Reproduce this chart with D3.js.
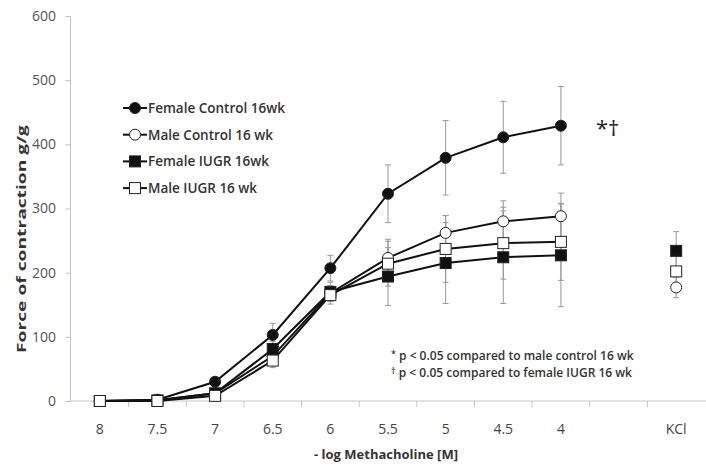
<!DOCTYPE html>
<html>
<head>
<meta charset="utf-8">
<script src="https://cdn.jsdelivr.net/npm/d3@7"></script>
<style>
  html, body { margin: 0; padding: 0; background: #fff; }
  svg { display: block; font-family: "Open Sans", "Liberation Sans", sans-serif; }
</style>
</head>
<body>
<svg id="chart" width="706" height="465"></svg>
<script>
// Concentrations on the x axis (plus a spacer and the KCl reference column)
const categories = ["8", "7.5", "7", "6.5", "6", "5.5", "5", "4.5", "4", "", "KCl"];
const yTicks = [0, 100, 200, 300, 400, 500, 600];

// Mean force of contraction (g/g) and error per group
const femaleControl    = [0, 2, 30, 103, 207, 323, 379, 411, 429, null, null];
const femaleControlErr = [0, 0, 5, 18, 20, 45, 58, 56, 61, null, null];
const maleControl      = [0, 1, 12, 70, 168, 223, 262, 280, 288, null, 177];
const maleControlErr   = [0, 0, 3, 10, 12, 29, 27, 32, 36, null, 16];
const femaleIUGR       = [0, 1, 12, 81, 170, 194, 215, 224, 227, null, 234];
const femaleIUGRErr    = [0, 0, 3, 12, 15, 45, 63, 72, 80, null, 30];
const maleIUGR         = [0, 0, 8, 63, 165, 214, 237, 246, 248, null, 202];
const maleIUGRErr      = [0, 0, 3, 11, 14, 35, 52, 56, 60, null, 25];

const seriesNames = ["Female Control 16wk", "Male Control 16 wk", "Female IUGR 16wk", "Male IUGR 16 wk"];
const footnotes = ["p < 0.05 compared to male control 16 wk", "p < 0.05 compared to female IUGR 16 wk"];
const footSymbols = ["*", "\u2020"];

const series = [
  { name: seriesNames[0], values: femaleControl, err: femaleControlErr, shape: "circle", fill: "#111" },
  { name: seriesNames[1], values: maleControl,   err: maleControlErr,   shape: "circle", fill: "#fff" },
  { name: seriesNames[2], values: femaleIUGR,    err: femaleIUGRErr,    shape: "square", fill: "#111" },
  { name: seriesNames[3], values: maleIUGR,      err: maleIUGRErr,      shape: "square", fill: "#fff" }
];

const svg = d3.select("#chart");
const axisColor = "#c4c4c4";
const textColor = "#444";

const x = d3.scaleBand().domain(categories).range([71, 705]).padding(0);
const y = d3.scaleLinear().domain([0, 600]).range([401, 16]);
const cx = c => x(c) + x.bandwidth() / 2;

// Y axis
const yAxis = svg.append("g").attr("transform", "translate(70,0)")
  .call(d3.axisLeft(y).tickValues(yTicks).tickSize(5).tickPadding(9));
yAxis.select(".domain").attr("stroke", axisColor);
yAxis.selectAll(".tick line").attr("stroke", axisColor);
yAxis.selectAll(".tick text").attr("fill", "#555").style("font-size", "14px")
  .style("font-family", "'Open Sans', sans-serif");

// X axis: baseline with ticks on category boundaries
svg.append("line").attr("x1", 70).attr("x2", 706).attr("y1", y(0)).attr("y2", y(0))
  .attr("stroke", axisColor);
svg.append("g").selectAll("line").data(categories.slice(0, -1)).join("line")
  .attr("x1", d => x(d) + x.bandwidth()).attr("x2", d => x(d) + x.bandwidth())
  .attr("y1", y(0)).attr("y2", y(0) + 6).attr("stroke", axisColor);
svg.append("g").selectAll("text").data(categories).join("text")
  .attr("x", d => cx(d)).attr("y", 434).attr("text-anchor", "middle")
  .attr("fill", textColor).style("font-size", "14px").text(d => d);

// Axis titles
svg.append("text").attr("x", 386).attr("y", 459).attr("text-anchor", "middle")
  .attr("fill", "#333").style("font-size", "13px").style("font-weight", 700)
  .text("- log Methacholine [M]");
// Vertical title: glyphs stretched along the text direction to span the axis label area
const yTitle = svg.append("text").attr("text-anchor", "middle").attr("fill", "#333")
  .style("font-size", "13px").style("font-weight", 700)
  .text("Force of contraction g/g");
const natural = yTitle.node().getComputedTextLength();
const stretch = 228 / natural;
yTitle.attr("transform", `translate(26,239) rotate(-90) scale(${stretch},1)`);

// Error bars
const errG = svg.append("g");
series.forEach(s => {
  categories.forEach((c, i) => {
    const v = s.values[i], e = s.err[i];
    if (v == null || !e) return;
    const px = cx(c);
    errG.append("line").attr("x1", px).attr("x2", px)
      .attr("y1", y(v - e)).attr("y2", y(v + e)).attr("stroke", "#999").attr("stroke-width", 1);
    [v - e, v + e].forEach(t => errG.append("line")
      .attr("x1", px - 3).attr("x2", px + 3).attr("y1", y(t)).attr("y2", y(t))
      .attr("stroke", "#999").attr("stroke-width", 1));
  });
});

// Lines (dose–response part only)
const line = d3.line().defined(d => d.v != null).x(d => cx(d.c)).y(d => y(d.v));
series.forEach(s => {
  const pts = categories.slice(0, 9).map((c, i) => ({ c, v: s.values[i] }));
  svg.append("path").datum(pts).attr("d", line)
    .attr("fill", "none").attr("stroke", "#111").attr("stroke-width", 2);
});

// Markers
function drawMarker(g, shape, fill, px, py) {
  if (shape === "circle") {
    g.append("circle").attr("cx", px).attr("cy", py).attr("r", 5.5)
      .attr("fill", fill).attr("stroke", "#222").attr("stroke-width", 1);
  } else {
    g.append("rect").attr("x", px - 5.5).attr("y", py - 5.5).attr("width", 11).attr("height", 11)
      .attr("fill", fill).attr("stroke", "#222").attr("stroke-width", 1);
  }
}
const markG = svg.append("g");
series.forEach(s => {
  categories.forEach((c, i) => {
    const v = s.values[i];
    if (v == null) return;
    drawMarker(markG, s.shape, s.fill, cx(c), y(v));
  });
});

// Legend
const legG = svg.append("g");
series.forEach((s, i) => {
  const ly = 108 + i * 26.7;
  legG.append("line").attr("x1", 123).attr("x2", 147).attr("y1", ly).attr("y2", ly)
    .attr("stroke", "#111").attr("stroke-width", 2);
  drawMarker(legG, s.shape, s.fill, 135, ly);
  legG.append("text").attr("x", 148).attr("y", ly + 5)
    .attr("fill", "#333").style("font-size", "13.5px").style("font-weight", 600)
    .text(s.name);
});

// Significance marks next to the female control curve
svg.append("text").attr("x", 596).attr("y", 136).attr("fill", "#222")
  .style("font-size", "22px").text("*\u2020");

// Footnotes
footnotes.forEach((t, i) => {
  const ty = 360 + i * 17;
  const tx = svg.append("text").attr("x", 391).attr("y", ty).attr("fill", "#333")
    .style("font-size", "12px").style("font-weight", 600);
  tx.append("tspan").attr("dy", -3).style("font-size", "9px").text(footSymbols[i]);
  tx.append("tspan").attr("dy", 3).text(" " + t);
});
</script>
</body>
</html>
